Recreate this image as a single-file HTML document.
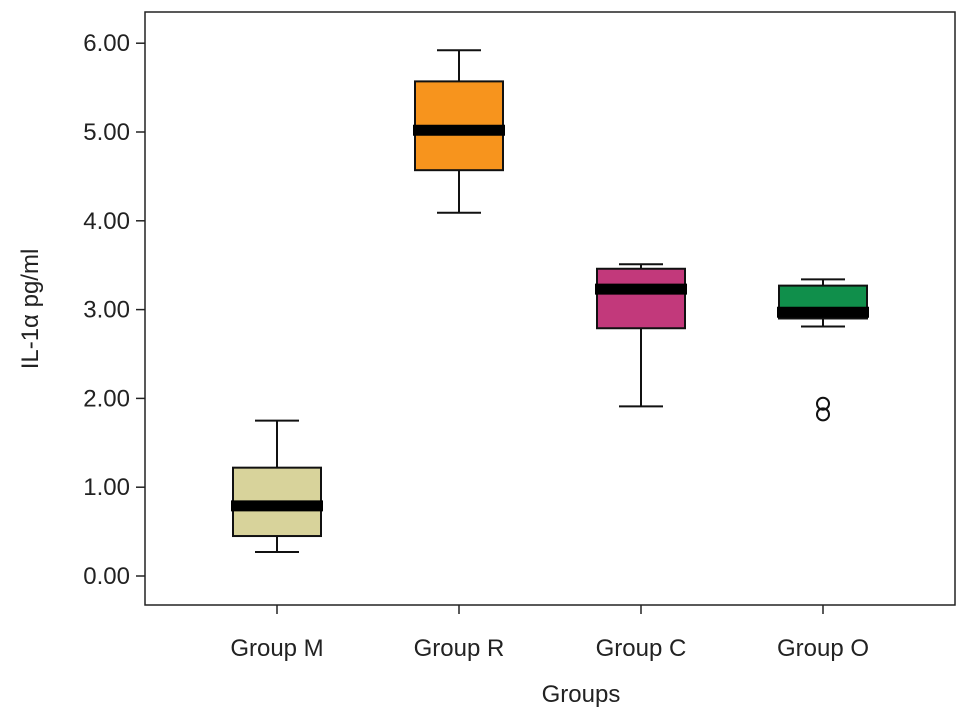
<!DOCTYPE html>
<html><head><meta charset="utf-8"><style>
body{margin:0;background:#fff;}
svg text{font-family:"Liberation Sans",sans-serif;fill:#222;}
</style></head><body>
<svg id="chart" width="969" height="722">
<rect x="145" y="12" width="810" height="593" fill="none" stroke="#222" stroke-width="1.5"/>
<g id="yaxis"></g>
<g id="xaxis"></g>
<g id="boxes"></g>
<text x="0" y="0" transform="translate(38,309) rotate(-90)" text-anchor="middle" font-size="24">IL-1α pg/ml</text>
<text x="581" y="702" text-anchor="middle" font-size="24">Groups</text>
</svg>
<script>
const categories=["Group M","Group R","Group C","Group O"];
const lowWhisker=[0.27,4.09,1.91,2.81];
const q1=[0.45,4.57,2.79,2.90];
const medians=[0.79,5.02,3.23,2.97];
const q3=[1.22,5.57,3.46,3.27];
const highWhisker=[1.75,5.92,3.51,3.34];
const outliers=[[],[],[],[1.94,1.82]];
const colors=["#d8d39b","#f7941d","#c2397b","#108f4b"];
const yTicks=[0,1,2,3,4,5,6];
const NS="http://www.w3.org/2000/svg";
const y=v=>576-v*88.8;
const x=i=>277+i*182;
function mk(tag,attrs,parent){const e=document.createElementNS(NS,tag);for(const k in attrs)e.setAttribute(k,attrs[k]);parent.appendChild(e);return e;}
const ya=document.getElementById('yaxis'),xa=document.getElementById('xaxis'),bx=document.getElementById('boxes');
yTicks.forEach(t=>{
 const l=mk('line',{x1:136,x2:145,y1:y(t),y2:y(t),stroke:'#222','stroke-width':1.5},ya);
 
 
 const tx=mk('text',{x:130,y:y(t)+8,'text-anchor':'end','font-size':24},ya);
 tx.textContent=t.toFixed(2);
 
 
});
categories.forEach((c,i)=>{
 const cx=x(i);
 const l=mk('line',{x1:cx,x2:cx,y1:605,y2:614,stroke:'#222','stroke-width':1.5},xa);
 
 
 const tx=mk('text',{x:cx,y:656,'text-anchor':'middle','font-size':24},xa);
 tx.textContent=c;
 
 
 const g=mk('g',{},bx);
 
 
 const s={stroke:'#111','stroke-width':2};
 mk('line',Object.assign({x1:cx,x2:cx,y1:y(highWhisker[i]),y2:y(q3[i])},s),g);
 mk('line',Object.assign({x1:cx,x2:cx,y1:y(q1[i]),y2:y(lowWhisker[i])},s),g);
 mk('line',Object.assign({x1:cx-22,x2:cx+22,y1:y(highWhisker[i]),y2:y(highWhisker[i])},s),g);
 mk('line',Object.assign({x1:cx-22,x2:cx+22,y1:y(lowWhisker[i]),y2:y(lowWhisker[i])},s),g);
 mk('rect',Object.assign({x:cx-44,y:y(q3[i]),width:88,height:y(q1[i])-y(q3[i]),fill:colors[i]},s),g);
 mk('line',{x1:cx-46,x2:cx+46,y1:y(medians[i]),y2:y(medians[i]),stroke:'#000','stroke-width':11},g);
 outliers[i].forEach(o=>{
  const ci=mk('circle',{cx:cx,cy:y(o),r:6,fill:'none',stroke:'#111','stroke-width':2},g);
  
  
 });
});
</script>
</body></html>
